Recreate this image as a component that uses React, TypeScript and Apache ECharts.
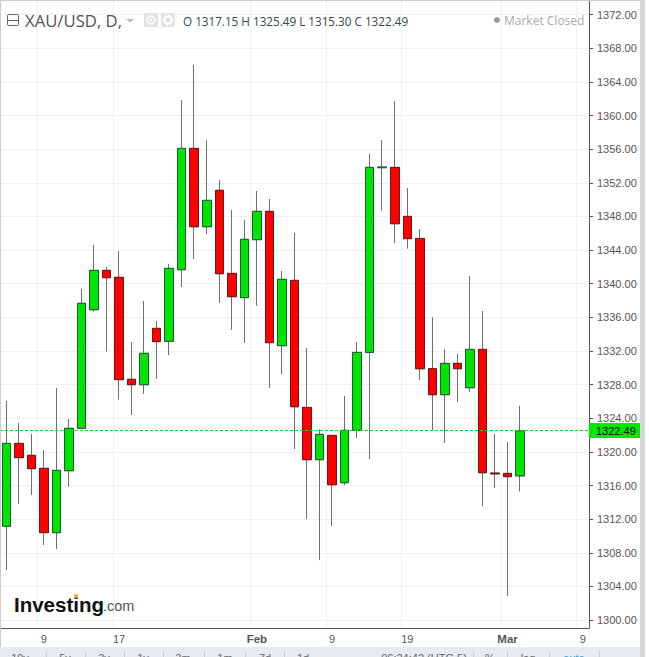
import React, { useEffect, useRef } from "react";
import * as echarts from "echarts";

const dates = [
  "01-04","01-05","01-08","01-09","01-10","01-11","01-12","01-15","01-16","01-17","01-18","01-19",
  "01-22","01-23","01-24","01-25","01-26","01-29","01-30","01-31","02-01","02-02","02-05","02-06",
  "02-07","02-08","02-09","02-12","02-13","02-14","02-15","02-16","02-19","02-20","02-21","02-22",
  "02-23","02-26","02-27","02-28","03-01","03-02","03-05","03-06","03-07","03-08","03-09",
];
const tickLabels: Record<string, string> = {
  "01-09": "9", "01-17": "17", "02-01": "Feb", "02-09": "9", "02-19": "19", "03-01": "Mar", "03-09": "9",
};
const opens = [1311.15,1321.01,1319.59,1318.04,1310.39,1317.76,1322.8,1336.91,1341.59,1340.76,1328.63,1327.99,1334.69,1333.15,1341.67,1356.1,1346.78,1351.11,1341.23,1338.34,1345.24,1348.61,1332.63,1340.4,1325.29,1319.07,1321.96,1316.33,1322.56,1331.83,1353.8,1353.84,1348.01,1345.39,1329.89,1326.8,1330.53,1327.63,1332.19,1317.48,1317.44,1317.15];
const closes = [1321.01,1319.31,1318.0,1310.39,1317.8,1322.8,1337.67,1341.59,1340.72,1328.59,1327.99,1331.72,1333.11,1341.83,1356.1,1346.78,1349.92,1341.19,1338.46,1345.28,1348.61,1332.99,1340.52,1325.37,1319.07,1322.08,1316.09,1322.56,1331.83,1353.84,1353.88,1347.14,1345.36,1329.89,1326.8,1330.53,1329.89,1332.19,1317.52,1317.38,1317.05,1322.49];
const lows = [1305.95,1313.8,1314.87,1308.92,1308.44,1315.82,1322.8,1336.68,1331.92,1326.2,1324.38,1326.88,1328.67,1331.52,1339.61,1342.94,1345.91,1337.7,1334.49,1332.95,1337.35,1327.6,1329.2,1320.34,1312.01,1307.13,1311.18,1316.05,1321.64,1319.15,1348.69,1344.84,1344.17,1328.54,1322.52,1321.05,1325.93,1327.12,1313.55,1315.7,1302.85,1315.3];
const highs = [1326.05,1323.43,1322.12,1320.22,1327.6,1323.91,1339.37,1344.61,1341.99,1343.89,1333.07,1337.94,1335.57,1342.35,1361.85,1366.02,1357.09,1352.34,1348.77,1347.58,1351.03,1350.08,1341.51,1346.03,1332.35,1322.67,1322.0,1326.64,1333.06,1355.43,1357.09,1361.73,1351.38,1346.51,1336.0,1332.19,1331.64,1340.91,1336.75,1322.12,1321.17,1325.49];
const priceTicks = [1300,1304,1308,1312,1316,1320,1324,1328,1332,1336,1340,1344,1348,1352,1356,1360,1364,1368,1372];
const lastPrice = 1322.49;
const headerSymbol = "XAU/USD, D,";
const headerOhlc = "O 1317.15 H 1325.49 L 1315.30 C 1322.49";
const marketStatus = "Market Closed";
const toolbarRanges = [["10y",20],["5y",65],["3y",104],["1y",143],["3m",183],["1m",225],["7d",265],["1d",303]] as const;
const toolbarRight = [["06:24:42 (UTC-5)",424],["%",490],["log",528],["auto",574]] as const;
const toolbarSeparators = [46,85,124,163,204,245,284,473,507,549,599];

const isTick = (_i: number, v: string) => v in tickLabels;

export default function App() {
  const ref = useRef<HTMLDivElement>(null);
  useEffect(() => {
    const chart = echarts.init(ref.current!, undefined, { renderer: "svg" });
    const wickData = opens.map((o, i) => [o, closes[i], lows[i], highs[i]]);
    const bodyData = opens.map((o, i) => [o, closes[i], Math.min(o, closes[i]), Math.max(o, closes[i])]);
    const grey = "#6e6e6e";
    const priceGreen = "#00e800";
    const toolbarText = (text: string, x: number, color = "#666") => ({
      type: "text", x, y: 652, z: 20,
      style: { text, fill: color, font: "11px 'Liberation Sans'", textAlign: "center", textVerticalAlign: "top" },
    });
    chart.setOption({
      animation: false,
      backgroundColor: "#ffffff",
      grid: { left: 0, top: 1, width: 589, height: 627, containLabel: false },
      xAxis: {
        type: "category",
        data: dates,
        boundaryGap: true,
        axisLine: { onZero: false, lineStyle: { color: "#555555", width: 1 } },
        axisTick: { alignWithLabel: true, interval: isTick, length: 4, lineStyle: { color: "#555555" } },
        axisLabel: {
          interval: isTick,
          margin: 5,
          color: "#555555",
          fontFamily: "Liberation Sans",
          fontSize: 11,
          formatter: (v: string) => {
            const t = tickLabels[v] ?? "";
            return t === "Feb" || t === "Mar" ? `{b|${t}}` : t;
          },
          rich: { b: { fontWeight: "bold", fontFamily: "Liberation Sans", fontSize: 11.5, color: "#555555" } },
        },
        splitLine: { show: true, interval: isTick, lineStyle: { color: "#f0f0f0", width: 1 } },
      },
      yAxis: {
        type: "value",
        position: "right",
        min: 1299.05,
        max: 1373.63,
        scale: true,
        axisLine: { show: true, lineStyle: { color: "#555555", width: 1 } },
        axisTick: { show: true, length: 4, customValues: priceTicks, lineStyle: { color: "#555555" } },
        axisLabel: {
          margin: 8,
          customValues: priceTicks,
          color: "#555555",
          fontFamily: "Liberation Sans",
          fontSize: 11,
          formatter: (v: number) => v.toFixed(2),
        },
        splitLine: { show: true, lineStyle: { color: "#f0f0f0", width: 1 } },
      },
      series: [
        {
          type: "candlestick",
          name: "wicks",
          data: wickData,
          barWidth: 9,
          silent: true,
          itemStyle: { color: "#00e400", color0: "#ff0000", borderColor: grey, borderColor0: grey, borderWidth: 1 },
          z: 3,
        },
        {
          type: "candlestick",
          name: "bodies",
          data: bodyData,
          barWidth: 9,
          silent: true,
          itemStyle: { color: "#00e400", color0: "#ff0000", borderColor: "#1c5c3e", borderColor0: "#6a1a1a", borderWidth: 1 },
          z: 4,
        },
        {
          type: "custom",
          name: "last price",
          data: [[lastPrice]],
          encode: { y: 0 },
          silent: true,
          z: 5,
          clip: false,
          renderItem: (params: any, api: any) => {
            const value = api.value(0);
            const y = Math.round(api.coord([0, value])[1]) - 0.5;
            const cs = params.coordSys;
            const right = cs.x + cs.width;
            return {
              type: "group",
              children: [
                {
                  type: "line",
                  shape: { x1: cs.x, y1: y, x2: right, y2: y },
                  style: { stroke: priceGreen, lineWidth: 1, lineDash: [3, 2], fill: "none" },
                },
                {
                  type: "rect",
                  shape: { x: right, y: y - 7.5, width: 51, height: 15 },
                  style: { fill: priceGreen },
                },
                {
                  type: "text",
                  x: right + 7,
                  y,
                  style: {
                    text: value.toFixed(2),
                    fill: "#000000",
                    font: "11px 'Liberation Sans'",
                    textVerticalAlign: "middle",
                  },
                },
              ],
            };
          },
        },
      ],
      graphic: [
        { type: "rect", z: 20, shape: { x: 0, y: 0, width: 640, height: 1 }, style: { fill: "#cccccc" } },
        { type: "rect", z: 20, shape: { x: 0, y: 0, width: 1, height: 647 }, style: { fill: "#cccccc" } },
        { type: "rect", z: 20, shape: { x: 640, y: 0, width: 5, height: 657 }, style: { fill: "#d6d6d6" } },
        { type: "rect", z: 19, shape: { x: 0, y: 647, width: 640, height: 10 }, style: { fill: "#e7ebef" } },
        ...toolbarSeparators.map((x) => ({ type: "line", z: 20, shape: { x1: x + 0.5, y1: 651, x2: x + 0.5, y2: 657 }, style: { stroke: "#c9ced3", lineWidth: 1 } })),
        ...toolbarRanges.map(([t, x]) => toolbarText(t, x)),
        ...toolbarRight.map(([t, x]) => toolbarText(t, x, t === "auto" ? "#3aa8e0" : "#666")),
        { type: "rect", z: 20, shape: { x: 7.5, y: 14.5, width: 11, height: 11, r: 1 }, style: { fill: "#fff", stroke: "#666", lineWidth: 1 } },
        { type: "line", z: 21, shape: { x1: 8, y1: 20.5, x2: 18, y2: 20.5 }, style: { stroke: "#666", lineWidth: 1 } },
        { type: "text", z: 20, x: 25, y: 20, style: { text: headerSymbol, fill: "#555555", font: "16.7px 'Open Sans'", textVerticalAlign: "middle" } },
        { type: "polygon", z: 20, shape: { points: [[126, 19], [134, 19], [130, 22.5]] }, style: { fill: "#bbbbbb" } },
        { type: "rect", z: 20, shape: { x: 144, y: 13, width: 14, height: 14 }, style: { fill: "#e2e2e2" } },
        { type: "circle", z: 21, shape: { cx: 151, cy: 20, r: 4 }, style: { fill: "none", stroke: "#fff", lineWidth: 1.5 } },
        { type: "circle", z: 21, shape: { cx: 151, cy: 20, r: 1.5 }, style: { fill: "#fff" } },
        { type: "rect", z: 20, shape: { x: 161, y: 13, width: 14, height: 14 }, style: { fill: "#e2e2e2" } },
        { type: "circle", z: 21, shape: { cx: 168, cy: 20, r: 4 }, style: { fill: "none", stroke: "#fff", lineWidth: 2.5, lineDash: [2, 1] } },
        { type: "circle", z: 21, shape: { cx: 168, cy: 20, r: 3.5 }, style: { fill: "none", stroke: "#fff", lineWidth: 1.5 } },
        { type: "text", z: 20, x: 183, y: 21, style: { text: headerOhlc, fill: "#2f4a48", font: "11.7px 'Open Sans'", textVerticalAlign: "middle" } },
        { type: "circle", z: 20, shape: { cx: 497, cy: 20, r: 3 }, style: { fill: "#999999" } },
        { type: "text", z: 20, x: 504, y: 20, style: { text: marketStatus, fill: "#aaaaaa", font: "12px 'Open Sans'", textVerticalAlign: "middle" } },
        { type: "text", z: 20, x: 14, y: 604, style: { text: "Investing", fill: "#111111", font: "bold 20.5px 'Liberation Sans'", textVerticalAlign: "middle" } },
        { type: "circle", z: 21, shape: { cx: 76, cy: 596, r: 2 }, style: { fill: "#f5a623" } },
        { type: "text", z: 20, x: 103, y: 606, style: { text: ".com", fill: "#555555", font: "14.5px 'Liberation Sans'", textVerticalAlign: "middle" } },
      ],
    });
    return () => chart.dispose();
  }, []);
  return (
    <div
      ref={ref}
      style={{ position: "absolute", left: 0, top: 0, width: 649, height: 657, background: "#fff" }}
    />
  );
}
